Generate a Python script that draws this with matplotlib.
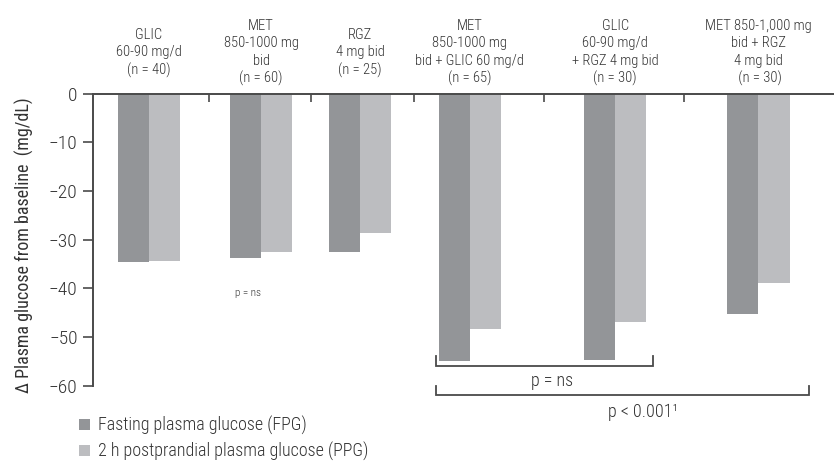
import matplotlib
matplotlib.use("Agg")
import matplotlib.pyplot as plt

plt.rcParams['font.family'] = ['Roboto Condensed', 'DejaVu Sans']
plt.rcParams['font.weight'] = 'light'

# data
groups = ["GLIC\n60-90 mg/d\n(n = 40)",
          "MET\n850-1000 mg\nbid\n(n = 60)",
          "RGZ\n4 mg bid\n(n = 25)",
          "MET\n850-1000 mg\nbid + GLIC 60 mg/d\n(n = 65)",
          "GLIC\n60-90 mg/d\n+ RGZ 4 mg bid\n(n = 30)",
          "MET 850-1,000 mg\nbid + RGZ\n4 mg bid\n (n = 30)"]
fpg = [-34.7, -33.7, -32.5, -54.9, -54.7, -45.4]
ppg = [-34.5, -32.5, -28.7, -48.3, -46.9, -38.9]
yticks = [0, -10, -20, -30, -40, -50, -60]

# layout (x in bar-width units)
centers = [1.79, 5.37, 8.53, 12.04, 16.68, 21.25]
separators = [3.71, 6.96, 10.26, 14.41, 18.88]

dark = '#939598'
light = '#bcbdc0'
ink = '#333333'

fig = plt.figure(figsize=(8.34, 4.61), dpi=100)
ax = fig.add_axes([93 / 834, 1 - 385.5 / 461, 1 - 93 / 834, 292 / 461])

ax.bar([c - 0.5 for c in centers], fpg, width=1.0, color=dark,
       label='Fasting plasma glucose (FPG)')
ax.bar([c + 0.5 for c in centers], ppg, width=1.0, color=light,
       label='2 h postprandial plasma glucose (PPG)')

ax.set_xlim(0, 23.67)
ax.set_ylim(-60, 0)

for s in ['right', 'bottom']:
    ax.spines[s].set_visible(False)
for s in ['left', 'top']:
    ax.spines[s].set_color('#4a4a4a')
    ax.spines[s].set_linewidth(1.4)

ax.xaxis.tick_top()
ax.set_xticks(separators)
ax.tick_params(axis='x', direction='in', length=6, width=1.2, color='#4a4a4a',
               labeltop=False)
ax.set_yticks(yticks)
ax.set_yticklabels([str(v).replace('-', '\u2212') for v in yticks])
ax.tick_params(axis='y', direction='out', length=7, width=1.2, color='#4a4a4a',
               labelsize=14, labelcolor=ink, pad=4)

ax.set_ylabel('\u0394 Plasma glucose from baseline  (mg/dL)', fontsize=13, color=ink)
ax.yaxis.set_label_coords(-0.08, 0.48)

# group labels above the chart
for c, g in zip(centers, groups):
    ax.text(c, 8.4, g, ha='center', va='center', fontsize=10.5, color=ink,
            linespacing=1.3, clip_on=False)

ax.text(4.95, -41, 'p = ns', ha='center', va='center', fontsize=8, color=ink)

# significance brackets
def bracket(x0, x1, y, tip, label, dx, ty):
    ax.plot([x0, x0, x1, x1], [y + tip, y, y, y + tip], color='#4a4a4a',
            lw=1.3, clip_on=False, solid_joinstyle='miter')
    ax.text((x0 + x1) / 2 + dx, ty, label, ha='center', va='center',
            fontsize=13, color=ink, clip_on=False)

bracket(10.96, 17.89, -55.9, 2.0, 'p = ns', 0.25, -59.0)
bracket(10.96, 22.88, -62.05, 1.85, 'p < 0.001\u00b9', 0.65, -65.4)

leg = ax.legend(loc='upper left', bbox_to_anchor=(79 / 834, 1 - 416 / 461),
                bbox_transform=fig.transFigure, frameon=False, fontsize=13,
                handlelength=0.62, handleheight=0.6, handletextpad=0.45,
                labelspacing=0.38, borderpad=0, borderaxespad=0)
for t in leg.get_texts():
    t.set_color(ink)

fig.savefig('out.png', dpi=100)
